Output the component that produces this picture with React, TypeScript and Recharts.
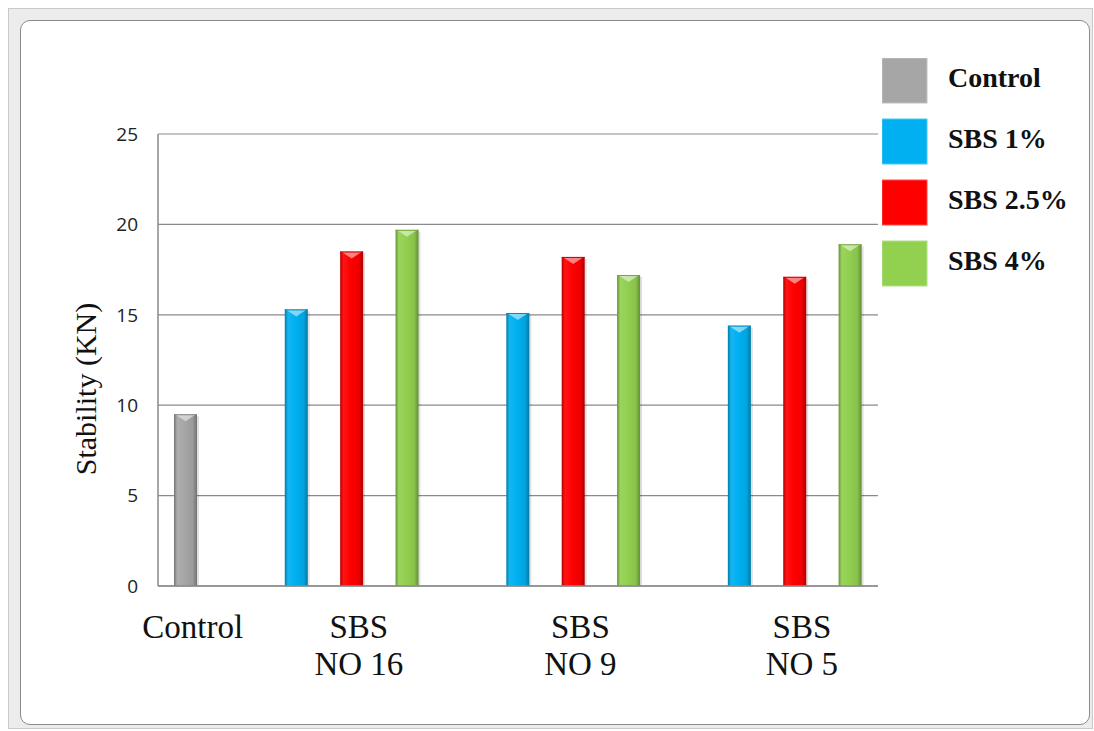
import React from 'react';
import { BarChart, Bar, XAxis, YAxis, CartesianGrid, Cell, Legend, Label } from 'recharts';

// Category captions under the x axis (line break = new line)
const CATEGORY_LABELS = ['Control', 'SBS\nNO 16', 'SBS\nNO 9', 'SBS\nNO 5'];
// Series shown in the legend
const SERIES_NAMES = ['Control', 'SBS 1%', 'SBS 2.5%', 'SBS 4%'];
const SERIES_COLORS = ['#a6a6a6', '#00b0f0', '#ff0000', '#92d050'];
// Marshall stability (KN)
const CONTROL_STABILITY = [9.5];
const SBS_1_STABILITY = [15.3, 15.1, 14.4];
const SBS_25_STABILITY = [18.5, 18.2, 17.1];
const SBS_4_STABILITY = [19.7, 17.2, 18.9];
const Y_TICKS = [0, 5, 10, 15, 20, 25];

type Row = { key: string; value: number | null; series: number; label?: string };

// One slot per bar, with an empty slot between groups
const rows: Row[] = [];
rows.push({ key: 'control', value: CONTROL_STABILITY[0], series: 0, label: CATEGORY_LABELS[0] });
[0, 1, 2].forEach((g) => {
  rows.push({ key: `gap-${g}`, value: null, series: -1 });
  rows.push({ key: `g${g}-1`, value: SBS_1_STABILITY[g], series: 1 });
  rows.push({ key: `g${g}-25`, value: SBS_25_STABILITY[g], series: 2, label: CATEGORY_LABELS[g + 1] });
  rows.push({ key: `g${g}-4`, value: SBS_4_STABILITY[g], series: 3 });
});

const SERIF = '"Liberation Serif", "Times New Roman", serif';
const SANS = '"Open Sans", "Noto Sans", sans-serif';

function shade(hex: string, f: number): string {
  const n = parseInt(hex.slice(1), 16);
  const ch = [(n >> 16) & 255, (n >> 8) & 255, n & 255];
  const out = ch.map((c) => (f < 1 ? Math.round(c * f) : Math.round(c + (255 - c) * (f - 1))));
  return `rgb(${out[0]},${out[1]},${out[2]})`;
}

// Glossy column with a bevelled top
const GlossyBar = (props: any) => {
  const { x, y, width, height, payload, index } = props;
  if (!height || height <= 0 || !payload || payload.series < 0) return null;
  const base = SERIES_COLORS[payload.series];
  const id = `bar-grad-${index}`;
  const cap = 7;
  return (
    <g>
      <defs>
        <linearGradient id={id} x1="0" y1="0" x2="1" y2="0">
          <stop offset="0%" stopColor={shade(base, 0.7)} />
          <stop offset="14%" stopColor={shade(base, 1.08)} />
          <stop offset="45%" stopColor={base} />
          <stop offset="82%" stopColor={shade(base, 0.93)} />
          <stop offset="100%" stopColor={shade(base, 0.68)} />
        </linearGradient>
      </defs>
      <rect x={x + 2} y={y + 2} width={width} height={height - 2} fill="#000" opacity={0.12} />
      <rect x={x} y={y} width={width} height={height} fill={`url(#${id})`} />
      <polygon
        points={`${x + 1},${y} ${x + width - 1},${y} ${x + width / 2},${y + cap}`}
        fill="#ffffff"
        opacity={0.5}
      />
      <line x1={x} y1={y + 0.5} x2={x + width} y2={y + 0.5} stroke={shade(base, 0.8)} strokeWidth={1} />
    </g>
  );
};

const CategoryTick = (props: any) => {
  const { x, y, payload } = props;
  const row = rows[payload.index];
  if (!row || !row.label) return null;
  const lines = row.label.split('\n');
  const cx = x + 7;
  return (
    <text x={cx} y={y} textAnchor="middle" fontFamily={SERIF} fontSize={33} fill="#111">
      {lines.map((line, i) => (
        <tspan key={i} x={cx} dy={i === 0 ? 52 : 37}>
          {line}
        </tspan>
      ))}
    </text>
  );
};

const YTitle = (props: any) => {
  const vb = props.viewBox || { x: 0, y: 0, width: 0, height: 0 };
  const cx = vb.x + 77;
  const cy = vb.y + vb.height / 2 + 29;
  return (
    <text
      x={cx}
      y={cy}
      transform={`rotate(-90, ${cx}, ${cy})`}
      textAnchor="middle"
      dominantBaseline="central"
      fontFamily={SERIF}
      fontSize={30}
      fill="#111"
    >
      Stability (KN)
    </text>
  );
};

const LegendBox = () => (
  <svg width={210} height={240}>
    {SERIES_NAMES.map((name, i) => (
      <g key={name}>
        <rect x={0} y={i * 61} width={45} height={45} fill={SERIES_COLORS[i]} stroke={shade(SERIES_COLORS[i], 1.3)} strokeWidth={1} />
        <text x={66} y={i * 61 + 29} fontFamily={SERIF} fontWeight="bold" fontSize={28} fill="#111">
          {name}
        </text>
      </g>
    ))}
  </svg>
);

export default function App() {
  return (
    <div
      style={{
        position: 'absolute',
        left: 0,
        top: 0,
        width: 1094,
        height: 731,
        overflow: 'hidden',
        background: '#ffffff',
      }}
    >
      {/* light window band */}
      <div
        style={{
          position: 'absolute',
          left: 8,
          top: 8,
          width: 1085,
          height: 721,
          boxSizing: 'border-box',
          background: '#ececec',
          border: '1px solid #c9c9c9',
        }}
      />
      {/* white chart area with rounded corners */}
      <div
        style={{
          position: 'absolute',
          left: 20,
          top: 20,
          width: 1070,
          height: 705,
          boxSizing: 'border-box',
          background: '#ffffff',
          border: '1px solid #8a8a8a',
          borderRadius: 10,
        }}
      />
      <div style={{ position: 'absolute', left: 8, top: 8 }}>
        <BarChart
          width={1080}
          height={721}
          data={rows}
          margin={{ top: 126, right: 210, bottom: 43, left: 0 }}
        >
          <CartesianGrid vertical={false} stroke="#8a8a8a" strokeWidth={1.2} />
          <XAxis
            dataKey="key"
            interval={0}
            height={100}
            tickLine={false}
            tickSize={0}
            tickMargin={0}
            axisLine={{ stroke: '#8a8a8a', strokeWidth: 1.5 }}
            tick={<CategoryTick />}
          />
          <YAxis
            domain={[0, 25]}
            ticks={Y_TICKS}
            width={150}
            tickLine={false}
            tickSize={0}
            tickMargin={20}
            axisLine={{ stroke: '#8a8a8a', strokeWidth: 1.5 }}
            tick={{ fontFamily: SANS, fontSize: 19, fill: '#222' }}
          >
            <Label content={<YTitle />} />
          </YAxis>
          <Legend
            layout="vertical"
            align="center"
            verticalAlign="middle"
            wrapperStyle={{ left: 874, top: 50, width: 200, height: 240 }}
            content={<LegendBox />}
          />
          <Bar dataKey="value" barSize={23} shape={<GlossyBar />} isAnimationActive={false}>
            {rows.map((r) => (
              <Cell key={r.key} fill={r.series >= 0 ? SERIES_COLORS[r.series] : 'none'} />
            ))}
          </Bar>
        </BarChart>
      </div>
    </div>
  );
}
